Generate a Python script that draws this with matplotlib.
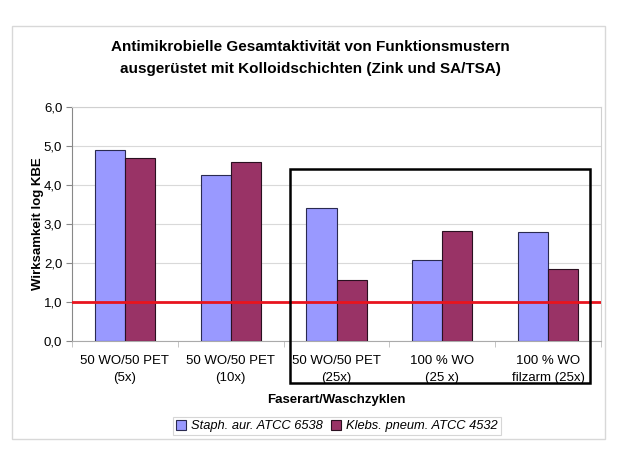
import matplotlib
matplotlib.use("Agg")
import matplotlib.pyplot as plt
from matplotlib.patches import Rectangle
import numpy as np

plt.rcParams['font.family'] = ['Liberation Sans', 'DejaVu Sans']

categories = ["50 WO/50 PET\n(5x)", "50 WO/50 PET\n(10x)", "50 WO/50 PET\n(25x)",
              "100 % WO\n(25 x)", "100 % WO\nfilzarm (25x)"]
staph = [4.90, 4.26, 3.42, 2.08, 2.79]
klebs = [4.68, 4.59, 1.56, 2.83, 1.85]
series_names = ["Staph. aur. ATCC 6538", "Klebs. pneum. ATCC 4532"]
yticks = [0, 1, 2, 3, 4, 5, 6]
threshold = 1.0

W, H = 621, 466
fig = plt.figure(figsize=(W / 100, H / 100), dpi=100)

def fx(px):
    return px / W

def fy(py):
    return 1 - py / H

# outer chart frame
fig.patches.append(Rectangle((fx(12), fy(439)), fx(605) - fx(12), fy(26) - fy(439),
                             transform=fig.transFigure, fill=False, edgecolor="#d8d8d8", lw=1))

ax = fig.add_axes([fx(72), fy(341), fx(601) - fx(72), fy(107) - fy(341)])
x = np.arange(len(categories))
w = 0.285
ax.bar(x - w / 2, staph, w, color="#9999ff", edgecolor="#2a2a50", lw=0.8, label=series_names[0], zorder=3)
ax.bar(x + w / 2, klebs, w, color="#993366", edgecolor="#2a1020", lw=0.8, label=series_names[1], zorder=3)
ax.axhline(threshold, color="#e8141e", lw=2, zorder=4)

ax.set_xlim(-0.5, len(categories) - 0.5)
ax.set_ylim(0, 6)
ax.set_yticks(yticks)
ax.set_yticklabels([f"{v:.1f}".replace(".", ",") for v in yticks], fontsize=9.5)
ax.yaxis.grid(True, color="#d9d9d9", lw=0.8, zorder=0)
ax.set_xticks(x)
ax.set_xticklabels(categories, fontsize=9.5, linespacing=1.55)
ax.set_xticks(np.arange(len(categories) + 1) - 0.5, minor=True)
ax.tick_params(axis="x", which="major", length=0, pad=10)
ax.tick_params(axis="x", which="minor", length=4, color="#bbbbbb")
ax.tick_params(axis="y", length=4, color="#888888", pad=3)
for s in ["top", "right"]:
    ax.spines[s].set_color("#d0d0d0")
ax.spines["left"].set_color("#888888")
ax.spines["bottom"].set_color("#aaaaaa")

ax.set_ylabel("Wirksamkeit log KBE", fontsize=9.5, fontweight="bold", labelpad=0)
ax.set_xlabel("Faserart/Waschzyklen", fontsize=9.5, fontweight="bold", labelpad=7)

fig.text(0.5, fy(58), "Antimikrobielle Gesamtaktivität von Funktionsmustern\n"
         "ausgerüstet mit Kolloidschichten (Zink und SA/TSA)",
         ha="center", va="center", fontsize=11, fontweight="bold", linespacing=1.7)

# highlight box around the 25x washes
fig.patches.append(Rectangle((fx(290), fy(383)), fx(590) - fx(290), fy(169) - fy(383),
                             transform=fig.transFigure, fill=False, edgecolor="black", lw=1.8, zorder=10))

leg = fig.legend(loc="center", bbox_to_anchor=(fx(337), fy(426)), ncol=2, frameon=True,
                 fancybox=False, edgecolor="#cccccc", prop={"style": "italic", "size": 9.3},
                 handlelength=0.8, handleheight=0.8, handletextpad=0.4, columnspacing=0.6,
                 borderpad=0.25)
leg.get_frame().set_linewidth(0.8)

fig.savefig("out.png", dpi=100)
